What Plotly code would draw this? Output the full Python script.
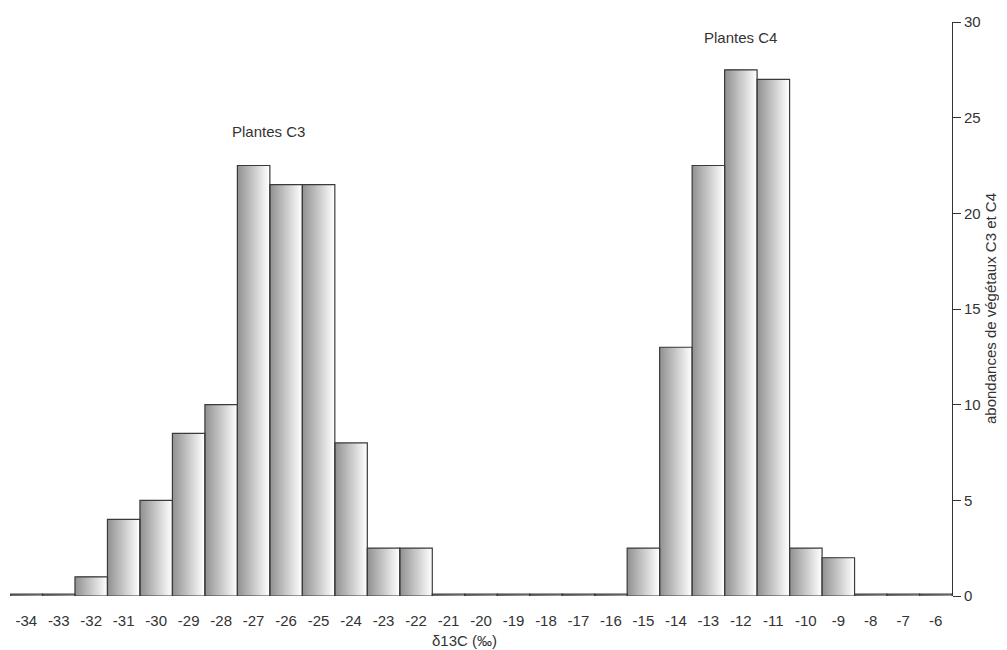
import plotly.graph_objects as go

categories = [-34, -33, -32, -31, -30, -29, -28, -27, -26, -25, -24, -23, -22, -21, -20,
              -19, -18, -17, -16, -15, -14, -13, -12, -11, -10, -9, -8, -7, -6]
abundance = [0.1, 0.1, 1.0, 4.0, 5.0, 8.5, 10.0, 22.5, 21.5, 21.5, 8.0, 2.5, 2.5, 0.1, 0.1,
             0.1, 0.1, 0.1, 0.1, 2.5, 13.0, 22.5, 27.5, 27.0, 2.5, 2.0, 0.1, 0.1, 0.1]
tick_labels = [str(c) for c in categories]
y_ticks = [0, 5, 10, 15, 20, 25, 30]

fig = go.Figure()

# gradient fill emulated with overlaid bar strips (dark at left -> white at right)
N = 32
c0, c1 = 0x92, 0xff
for k in range(N):
    t = k / (N - 1)
    v = int(round(c0 + (c1 - c0) * t))
    col = f"rgb({v},{v},{v})"
    fig.add_trace(go.Bar(
        x=categories, y=abundance,
        width=1 - k / N, offset=-0.5 + k / N,
        marker=dict(color=col, line=dict(width=0)),
        hoverinfo="skip", showlegend=False,
    ))

# outline
fig.add_trace(go.Bar(
    x=categories, y=abundance, width=1, offset=-0.5,
    marker=dict(color="rgba(0,0,0,0)", line=dict(color="#3a3a3a", width=1.2)),
    showlegend=False,
))

font = dict(family="Liberation Sans, Arial, sans-serif", size=15, color="#333333")

fig.add_annotation(x=-26.55, y=24.3, text="Plantes C3", showarrow=False, font=font)
fig.add_annotation(x=-12.0, y=29.2, text="Plantes C4", showarrow=False, font=font)
fig.add_annotation(x=-20.5, y=-0.077, xref="x", yref="paper", text="δ13C (‰)",
                   showarrow=False, font=font, yanchor="middle")
fig.add_annotation(x=1 + (990 - 952) / 942, y=0.5, xref="paper", yref="paper",
                   text="abondances de végétaux C3 et C4", textangle=-90,
                   showarrow=False, font=font, xanchor="center", yanchor="middle")

fig.update_layout(
    width=999, height=642,
    margin=dict(l=2, r=55, t=14, b=54, autoexpand=False),
    barmode="overlay",
    plot_bgcolor="white", paper_bgcolor="white",
    font=font,
    xaxis=dict(
        range=[-34.5, -5.5], tickvals=categories, ticktext=tick_labels,
        showgrid=False, zeroline=False, showline=False, ticks="",
        tickfont=font, automargin=False, ticklabelstandoff=14,
    ),
    yaxis=dict(
        side="right", range=[0, 30], tickvals=y_ticks,
        showgrid=False, zeroline=False, showline=True, linecolor="#333333", linewidth=1,
        ticks="outside", ticklen=8, tickcolor="#333333",
        tickfont=font, automargin=False,
    ),
)

fig.write_html("out.html")
